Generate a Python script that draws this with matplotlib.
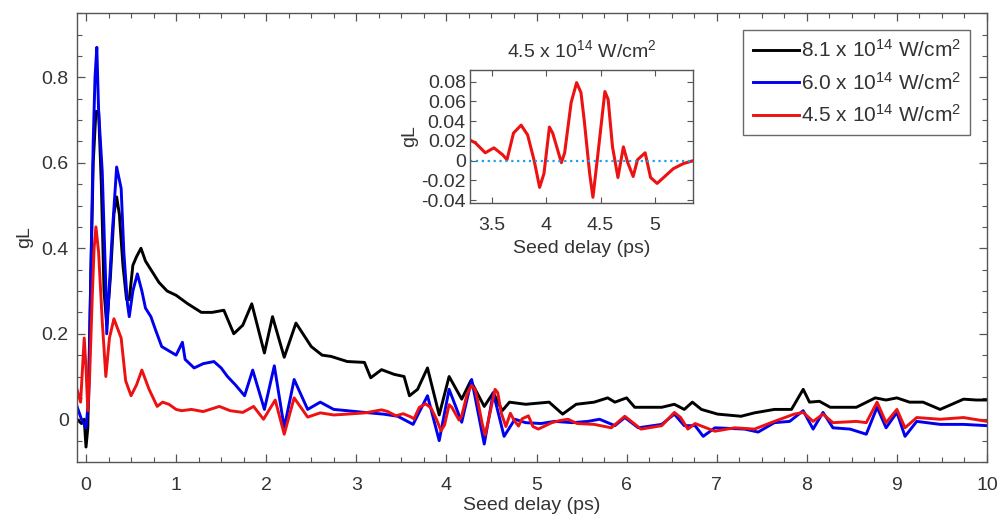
import matplotlib
matplotlib.use("Agg")
import matplotlib.pyplot as plt
from matplotlib.ticker import MultipleLocator

plt.rcParams['font.family'] = ['Liberation Sans', 'DejaVu Sans']
plt.rcParams['mathtext.fontset'] = 'custom'
plt.rcParams['mathtext.rm'] = 'Liberation Sans'
plt.rcParams['mathtext.default'] = 'regular'

# ---------------- data ----------------
t_black = [-0.10, -0.05, -0.02, 0.00, 0.02, 0.05, 0.08, 0.11, 0.14, 0.17, 0.20, 0.23,
           0.27, 0.31, 0.34, 0.37, 0.41, 0.45, 0.48, 0.52, 0.56, 0.61, 0.66, 0.72,
           0.81, 0.90, 1.00, 1.13, 1.28, 1.40, 1.53, 1.64, 1.74, 1.84, 1.98, 2.07,
           2.20, 2.33, 2.50, 2.62, 2.72, 2.90, 3.09, 3.16, 3.28, 3.42, 3.53, 3.59,
           3.68, 3.79, 3.92, 4.03, 4.17, 4.27, 4.42, 4.52, 4.62, 4.70, 4.88, 5.14,
           5.29, 5.44, 5.64, 5.79, 5.87, 6.00, 6.09, 6.39, 6.53, 6.64, 6.73, 6.83,
           7.01, 7.27, 7.42, 7.64, 7.83, 7.96, 8.03, 8.14, 8.26, 8.55, 8.76, 8.88,
           9.00, 9.14, 9.29, 9.48, 9.74, 9.88, 10.0]
g_black = [0.0, -0.01, 0.0, -0.065, -0.02, 0.30, 0.60, 0.72, 0.72, 0.55, 0.30, 0.22,
           0.33, 0.48, 0.52, 0.48, 0.36, 0.28, 0.28, 0.36, 0.38, 0.40, 0.37, 0.35,
           0.32, 0.30, 0.29, 0.27, 0.25, 0.25, 0.255, 0.20, 0.22, 0.27, 0.155, 0.24,
           0.145, 0.225, 0.17, 0.15, 0.147, 0.135, 0.133, 0.097, 0.116, 0.105, 0.10, 0.055,
           0.07, 0.12, 0.01, 0.10, 0.047, 0.09, 0.03, 0.062, 0.02, 0.04, 0.035, 0.04,
           0.012, 0.035, 0.04, 0.05, 0.04, 0.05, 0.028, 0.028, 0.035, 0.023, 0.04, 0.023,
           0.012, 0.007, 0.015, 0.023, 0.023, 0.07, 0.04, 0.042, 0.028, 0.028, 0.05, 0.045,
           0.05, 0.04, 0.04, 0.023, 0.047, 0.045, 0.045]

t_blue = [-0.10, -0.05, 0.00, 0.03, 0.05, 0.08, 0.10, 0.12, 0.14, 0.18, 0.22, 0.23,
          0.29, 0.34, 0.39, 0.42, 0.46, 0.48, 0.52, 0.57, 0.62, 0.66, 0.72, 0.77,
          0.84, 0.92, 1.00, 1.07, 1.10, 1.20, 1.30, 1.42, 1.50, 1.57, 1.66, 1.76,
          1.85, 1.98, 2.09, 2.20, 2.31, 2.46, 2.60, 2.75, 2.90, 3.09, 3.30, 3.46,
          3.63, 3.79, 3.92, 4.03, 4.17, 4.28, 4.42, 4.52, 4.64, 4.76, 4.88, 5.05,
          5.20, 5.40, 5.57, 5.70, 5.87, 5.98, 6.13, 6.39, 6.53, 6.64, 6.76, 6.85,
          6.98, 7.31, 7.46, 7.64, 7.81, 7.96, 8.07, 8.18, 8.29, 8.48, 8.66, 8.78,
          8.88, 9.00, 9.09, 9.22, 9.48, 9.74, 10.0]
g_blue = [0.03, 0.0, -0.02, 0.05, 0.30, 0.65, 0.80, 0.87, 0.72, 0.58, 0.31, 0.20,
          0.43, 0.59, 0.54, 0.39, 0.27, 0.24, 0.30, 0.34, 0.30, 0.26, 0.24, 0.21,
          0.17, 0.16, 0.15, 0.18, 0.14, 0.12, 0.13, 0.135, 0.12, 0.10, 0.08, 0.055,
          0.115, 0.023, 0.125, -0.02, 0.093, 0.023, 0.04, 0.023, 0.02, 0.016, 0.012, 0.007,
          -0.012, 0.055, -0.05, 0.07, -0.007, 0.093, -0.058, 0.062, -0.04, 0.0, -0.008, -0.01,
          -0.005, -0.008, -0.005, 0.0, -0.015, 0.004, -0.02, -0.012, 0.012, -0.015, -0.015, -0.04,
          -0.02, -0.023, -0.03, -0.008, -0.005, 0.02, -0.023, 0.016, -0.02, -0.023, -0.035, 0.028,
          -0.02, 0.016, -0.04, -0.005, -0.012, -0.012, -0.015]

t_red = [-0.10, -0.06, -0.02, 0.00, 0.02, 0.04, 0.07, 0.09, 0.11, 0.14, 0.18, 0.22,
         0.26, 0.31, 0.39, 0.44, 0.50, 0.56, 0.62, 0.70, 0.79, 0.85, 0.92, 1.00,
         1.06, 1.17, 1.30, 1.48, 1.60, 1.74, 1.86, 1.97, 2.10, 2.20, 2.31, 2.46,
         2.60, 2.75, 2.90, 3.10, 3.28, 3.35, 3.44, 3.52, 3.60, 3.64, 3.70, 3.77,
         3.83, 3.89, 3.94, 3.98, 4.03, 4.06, 4.14, 4.17, 4.23, 4.28, 4.32, 4.35,
         4.40, 4.43, 4.47, 4.54, 4.57, 4.61, 4.66, 4.71, 4.75, 4.80, 4.84, 4.91,
         4.96, 5.02, 5.08, 5.17, 5.26, 5.35, 5.45, 5.64, 5.83, 5.98, 6.16, 6.39,
         6.53, 6.60, 6.68, 6.76, 6.98, 7.20, 7.42, 7.64, 7.86, 7.96, 8.07, 8.18,
         8.29, 8.55, 8.66, 8.78, 8.88, 9.00, 9.09, 9.22, 9.48, 9.74, 10.0]
g_red = [0.07, 0.04, 0.19, 0.12, 0.02, 0.10, 0.29, 0.40, 0.45, 0.39, 0.23, 0.10,
         0.19, 0.235, 0.19, 0.09, 0.055, 0.08, 0.115, 0.07, 0.03, 0.04, 0.035, 0.023,
         0.02, 0.023, 0.018, 0.03, 0.02, 0.016, 0.03, 0.0, 0.045, -0.035, 0.05, 0.005,
         0.015, 0.01, 0.012, 0.015, 0.022, 0.018, 0.008, 0.013, 0.006, 0.001, 0.028, 0.036,
         0.026, 0.0, -0.027, -0.013, 0.034, 0.028, -0.002, 0.008, 0.059, 0.079, 0.069, 0.041,
         -0.013, -0.037, 0.001, 0.07, 0.062, 0.014, -0.017, 0.014, -0.002, -0.016, 0.001, 0.008,
         -0.017, -0.023, -0.017, -0.008, -0.003, 0.0, -0.01, -0.012, -0.02, 0.007, -0.023, -0.015,
         0.016, 0.004, -0.023, -0.01, -0.028, -0.02, -0.023, -0.005, 0.012, 0.016, -0.005, 0.012,
         -0.008, -0.005, -0.008, 0.04, -0.008, 0.023, -0.02, 0.004, 0.0, 0.004, -0.005]

labels = [r'8.1 x 10$^{14}$ W/cm$^{2}$',
          r'6.0 x 10$^{14}$ W/cm$^{2}$',
          r'4.5 x 10$^{14}$ W/cm$^{2}$']
inset_title = r'4.5 x 10$^{14}$ W/cm$^{2}$'
xlabel = 'Seed delay (ps)'
ylabel = 'gL'

# ---------------- figure ----------------
fig = plt.figure(figsize=(10, 5.25), dpi=100)
txt = '#333333'
spine = '#555555'

ax = fig.add_axes([0.077, 0.12, 0.910, 0.855])
ax.plot(t_black, g_black, color='#000000', lw=2.1, label=labels[0])
ax.plot(t_blue, g_blue, color='#0000ee', lw=2.1, label=labels[1])
ax.plot(t_red, g_red, color='#ee1111', lw=2.1, label=labels[2])
ax.set_xlim(-0.1, 10)
ax.set_ylim(-0.1, 0.95)
ax.set_xticks(range(0, 11))
ax.set_yticks([0, 0.2, 0.4, 0.6, 0.8])
ax.set_yticklabels(['0', '0.2', '0.4', '0.6', '0.8'])
ax.xaxis.set_minor_locator(MultipleLocator(0.25))
ax.yaxis.set_minor_locator(MultipleLocator(0.05))
ax.tick_params(which='both', direction='in', top=True, right=True, colors=spine,
               labelcolor=txt, labelsize=14)
ax.tick_params(which='major', length=6, width=0.9)
ax.tick_params(which='minor', length=3.5, width=0.8)
ax.tick_params(axis='x', pad=11)
ax.tick_params(axis='y', pad=6)
for s in ax.spines.values():
    s.set_color(spine)
    s.set_linewidth(1.0)
ax.set_xlabel(xlabel, fontsize=14, color=txt, labelpad=2)
ax.set_ylabel(ylabel, fontsize=14, color=txt, labelpad=6)

leg = ax.legend(loc='upper right', bbox_to_anchor=(0.970, 1 - 30 / 525),
                bbox_transform=fig.transFigure, borderaxespad=0, fontsize=15,
                frameon=True, fancybox=False, handlelength=2.2, handletextpad=0.1,
                labelspacing=0.5, borderpad=0.45)
leg.get_frame().set_edgecolor('#444444')
leg.get_frame().set_linewidth(1.0)
for t in leg.get_texts():
    t.set_color(txt)

# inset
axi = fig.add_axes([0.470, 0.613, 0.223, 0.254])
axi.plot(t_red, g_red, color='#ee1111', lw=2.2)
axi.axhline(0, color='#1f9fe8', lw=1.6, ls=':')
axi.set_xlim(3.3, 5.35)
axi.set_ylim(-0.043, 0.092)
axi.set_xticks([3.5, 4, 4.5, 5])
axi.set_xticklabels(['3.5', '4', '4.5', '5'])
axi.set_yticks([-0.04, -0.02, 0, 0.02, 0.04, 0.06, 0.08])
axi.set_yticklabels(['-0.04', '-0.02', '0', '0.02', '0.04', '0.06', '0.08'])
axi.tick_params(which='both', direction='in', top=True, right=True, colors=spine,
                labelcolor=txt, labelsize=14, length=4, pad=3)
axi.tick_params(axis='x', pad=10)
axi.tick_params(axis='y', pad=3)
for s in axi.spines.values():
    s.set_color(spine)
    s.set_linewidth(1.0)
axi.set_title(inset_title, fontsize=14, color=txt, pad=9)
axi.set_xlabel(xlabel, fontsize=14, color=txt, labelpad=4)
axi.set_ylabel(ylabel, fontsize=14, color=txt, labelpad=2)

fig.savefig('out.png', dpi=100)
